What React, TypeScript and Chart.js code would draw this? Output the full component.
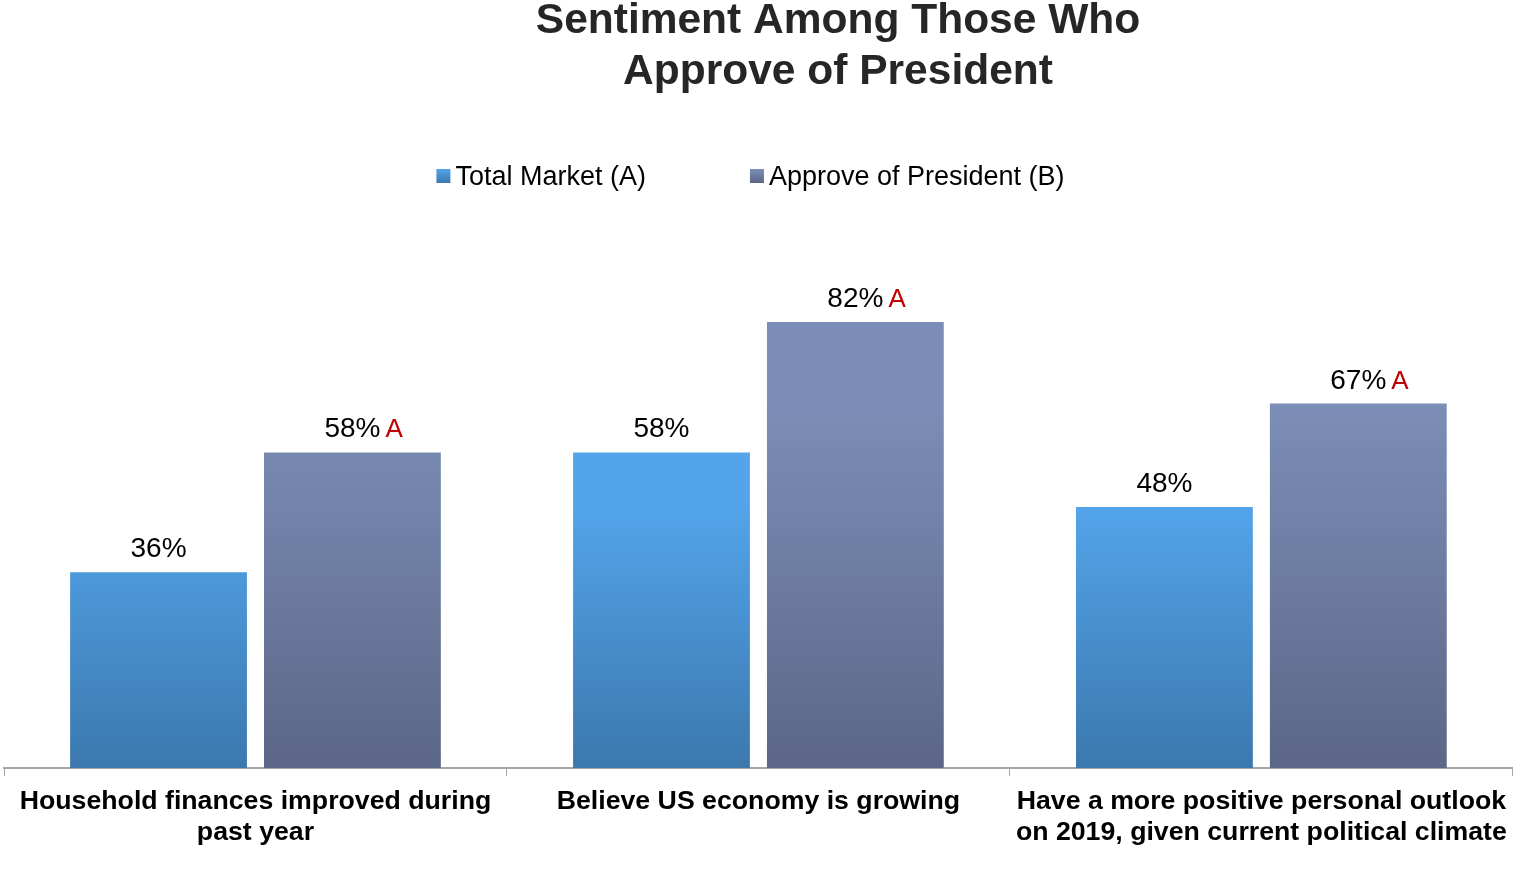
import React, { useEffect, useRef } from "react";
import { Chart, registerables } from "chart.js";

Chart.register(...registerables);

const titleLines = ["Sentiment Among Those Who", "Approve of President"];
const categories = [
  ["Household finances improved during", "past year"],
  ["Believe US economy is growing"],
  ["Have a more positive personal outlook", "on 2019, given current political climate"],
];
const seriesNames = ["Total Market (A)", "Approve of President (B)"];
const totalMarket = [36, 58, 48];
const approvePresident = [58, 82, 67];
const sigTotal = ["", "", ""];
const sigApprove = ["A", "A", "A"];

const FONT = "'Liberation Sans', Arial, sans-serif";
const gradStops = [
  ["#53A4EA", "#3B78AE"],
  ["#7C8EB7", "#5C6787"],
];

const customPlugin = {
  id: "custom",
  beforeDatasetsDraw(chart: any) {
    const ctx = chart.ctx;
    chart.data.datasets.forEach((ds: any, di: number) => {
      const meta = chart.getDatasetMeta(di);
      meta.data.forEach((bar: any) => {
        const g = ctx.createLinearGradient(0, bar.y, 0, bar.base);
        g.addColorStop(0, gradStops[di][0]);
        g.addColorStop(1, gradStops[di][1]);
        bar.options.backgroundColor = g;
      });
    });
  },
  afterDatasetsDraw(chart: any) {
    const ctx = chart.ctx;
    ctx.save();
    ctx.textBaseline = "alphabetic";
    chart.data.datasets.forEach((ds: any, di: number) => {
      const meta = chart.getDatasetMeta(di);
      const sig = di === 0 ? sigTotal : sigApprove;
      meta.data.forEach((bar: any, i: number) => {
        const txt = ds.data[i] + "%";
        ctx.font = `28px ${FONT}`;
        ctx.fillStyle = "#000000";
        ctx.textAlign = "center";
        const y = bar.y - 15;
        ctx.fillText(txt, bar.x, y);
        if (sig[i]) {
          const w = ctx.measureText(txt).width;
          ctx.textAlign = "left";
          ctx.fillStyle = "#C00000";
          ctx.font = `26px ${FONT}`;
          ctx.fillText(sig[i], bar.x + w / 2 + 5, y);
        }
      });
    });
    ctx.restore();
  },
  afterDraw(chart: any) {
    const ctx = chart.ctx;
    ctx.save();
    // title
    ctx.font = `bold 42.5px ${FONT}`;
    ctx.fillStyle = "#262626";
    ctx.textAlign = "center";
    ctx.textBaseline = "alphabetic";
    ctx.fillText(titleLines[0], 838, 33);
    ctx.fillText(titleLines[1], 838, 84);
    // legend
    ctx.font = `27px ${FONT}`;
    const box = 14;
    const gapBoxText = 5;
    const gapItems = 104;
    const widths = seriesNames.map((n) => box + gapBoxText + ctx.measureText(n).width);
    const total = widths[0] + gapItems + widths[1];
    let x = 750.5 - total / 2;
    const cy = 176;
    seriesNames.forEach((n, i) => {
      const g = ctx.createLinearGradient(0, cy - box / 2, 0, cy + box / 2);
      g.addColorStop(0, gradStops[i][0]);
      g.addColorStop(1, gradStops[i][1]);
      ctx.fillStyle = g;
      ctx.fillRect(x, cy - box / 2, box, box);
      ctx.fillStyle = "#000000";
      ctx.textAlign = "left";
      ctx.textBaseline = "middle";
      ctx.fillText(n, x + box + gapBoxText, cy + 2);
      x += widths[i] + gapItems;
    });
    ctx.restore();
  },
};

export default function App() {
  const ref = useRef<HTMLCanvasElement>(null);
  useEffect(() => {
    if (!ref.current) return;
    const chart = new Chart(ref.current, {
      type: "bar",
      data: {
        labels: categories as any,
        datasets: [
          {
            label: seriesNames[0],
            data: totalMarket,
            backgroundColor: gradStops[0][0],
            borderWidth: 0,
          },
          {
            label: seriesNames[1],
            data: approvePresident,
            backgroundColor: gradStops[1][0],
            borderWidth: 0,
          },
        ],
      },
      options: {
        animation: false,
        responsive: true,
        maintainAspectRatio: false,
        layout: { padding: { top: 224, left: 4, right: 1, bottom: 0 } },
        datasets: { bar: { categoryPercentage: 0.771, barPercentage: 0.912 } },
        plugins: {
          legend: { display: false },
          title: { display: false },
          tooltip: { enabled: false },
        },
        scales: {
          x: {
            afterFit: (scale: any) => {
              scale.height = 108;
            },
            grid: {
              drawOnChartArea: false,
              drawTicks: true,
              tickLength: 8,
              color: "#A6A6A6",
              offset: true,
            },
            border: { display: true, color: "#A6A6A6", width: 2 },
            ticks: {
              color: "#000000",
              font: { family: FONT, size: 26.7, weight: "bold", lineHeight: 1.16 },
              padding: 10,
              maxRotation: 0,
              autoSkip: false,
            },
          },
          y: {
            display: false,
            min: 0,
            max: 100,
          },
        },
      },
      plugins: [customPlugin],
    });
    return () => chart.destroy();
  }, []);
  return (
    <div style={{ position: "absolute", left: 0, top: 0, width: 1517, height: 876, background: "#fff" }}>
      <canvas ref={ref} />
    </div>
  );
}
